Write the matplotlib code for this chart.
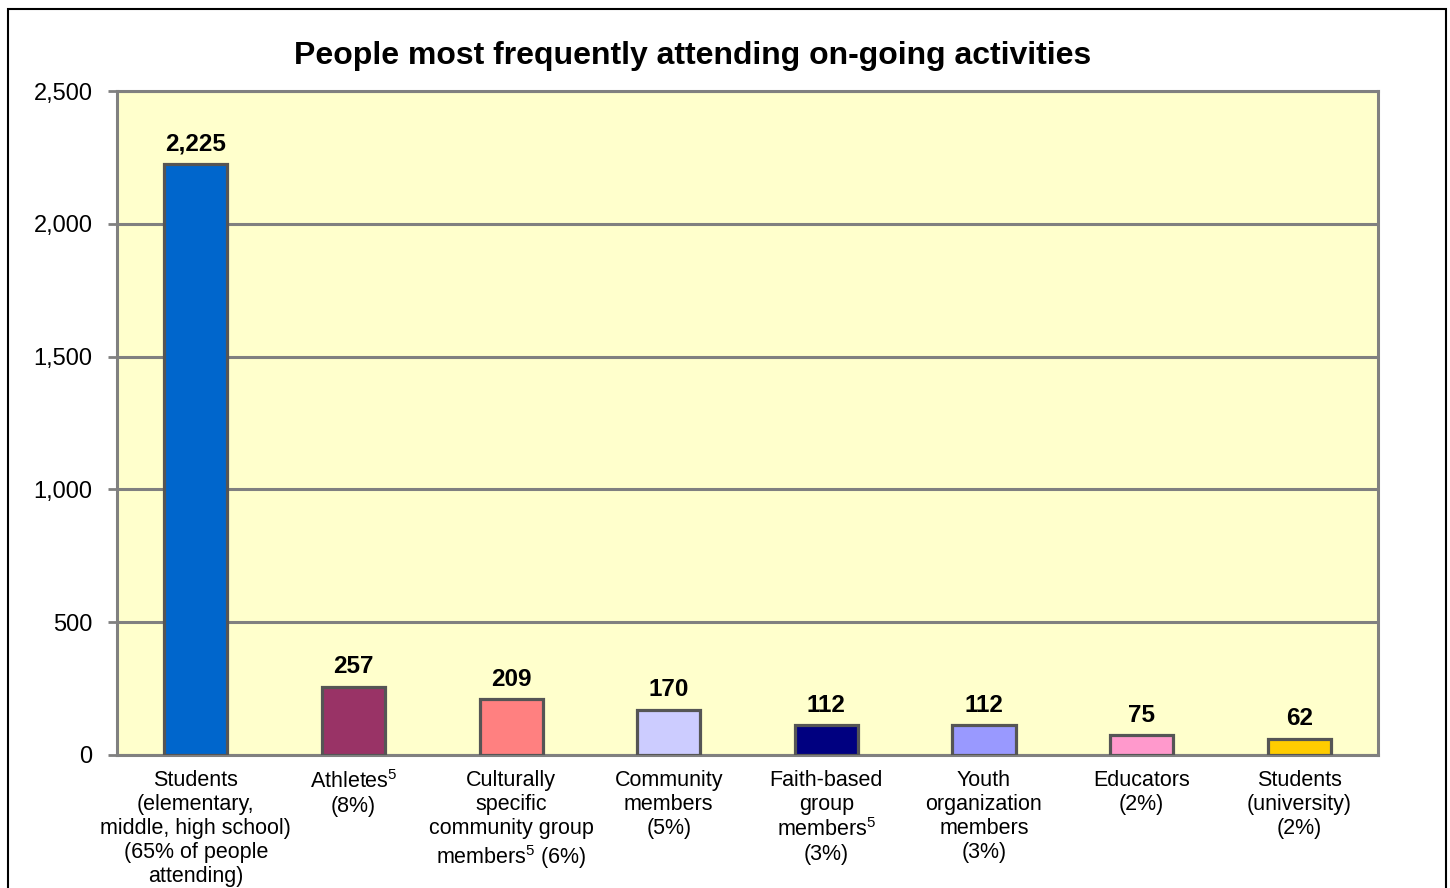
import matplotlib.pyplot as plt
from matplotlib.patches import Rectangle

plt.rcParams['font.family'] = ['Liberation Sans', 'DejaVu Sans']
plt.rcParams['mathtext.fontset'] = 'custom'
plt.rcParams['mathtext.rm'] = 'Liberation Sans'
plt.rcParams['mathtext.default'] = 'rm'

categories = [
    "Students\n(elementary,\nmiddle, high school)\n(65% of people\nattending)",
    "Athletes$^{5}$\n(8%)",
    "Culturally\nspecific\ncommunity group\nmembers$^{5}$ (6%)",
    "Community\nmembers\n(5%)",
    "Faith-based\ngroup\nmembers$^{5}$\n(3%)",
    "Youth\norganization\nmembers\n(3%)",
    "Educators\n(2%)",
    "Students\n(university)\n(2%)",
]
values = [2225, 257, 209, 170, 112, 112, 75, 62]
colors = ['#0066CC', '#993366', '#FF8080', '#CCCCFF',
          '#000080', '#9999FF', '#FF99CC', '#FFCC00']
yticks = [0, 500, 1000, 1500, 2000, 2500]

fig = plt.figure(figsize=(14.5, 8.88), dpi=100)
ax = fig.add_axes([0.0807, 0.1498, 0.8697, 0.7477])
ax.set_facecolor('#FFFFCC')

x = list(range(len(values)))
ax.bar(x, values, width=0.4, color=colors, edgecolor='#555555', linewidth=2.3, zorder=3)

for xi, v in zip(x, values):
    ax.annotate("{:,}".format(v), (xi, v), xytext=(0, 6), textcoords='offset points',
                ha='center', va='bottom', fontsize=17.5, fontweight='bold')

ax.set_xlim(-0.5, len(values) - 0.5)
ax.set_ylim(0, 2500)
ax.set_yticks(yticks)
ax.set_yticklabels(["{:,}".format(t) for t in yticks], fontsize=17)
ax.set_xticks(x)
ax.set_xticklabels(categories, fontsize=15.5, linespacing=1.18, va='top')
ax.tick_params(axis='x', length=0, pad=11)
ax.tick_params(axis='y', length=6.5, width=2, color='#808080', pad=11, direction='out')

ax.yaxis.grid(True, color='#808080', linewidth=2.2, zorder=0)
ax.set_axisbelow(True)
for s in ax.spines.values():
    s.set_color('#808080')
    s.set_linewidth(2.2)

fig.text(0.478, 0.937, "People most frequently attending on-going activities",
         ha='center', va='center', fontsize=23, fontweight='bold')

# outer frame
fig.patches.append(Rectangle((8 / 1450, -0.05), 1438 / 1450, 1.05 - 9 / 888,
                             transform=fig.transFigure, fill=False,
                             edgecolor='black', linewidth=1.5))

fig.savefig('out.png', dpi=100)
